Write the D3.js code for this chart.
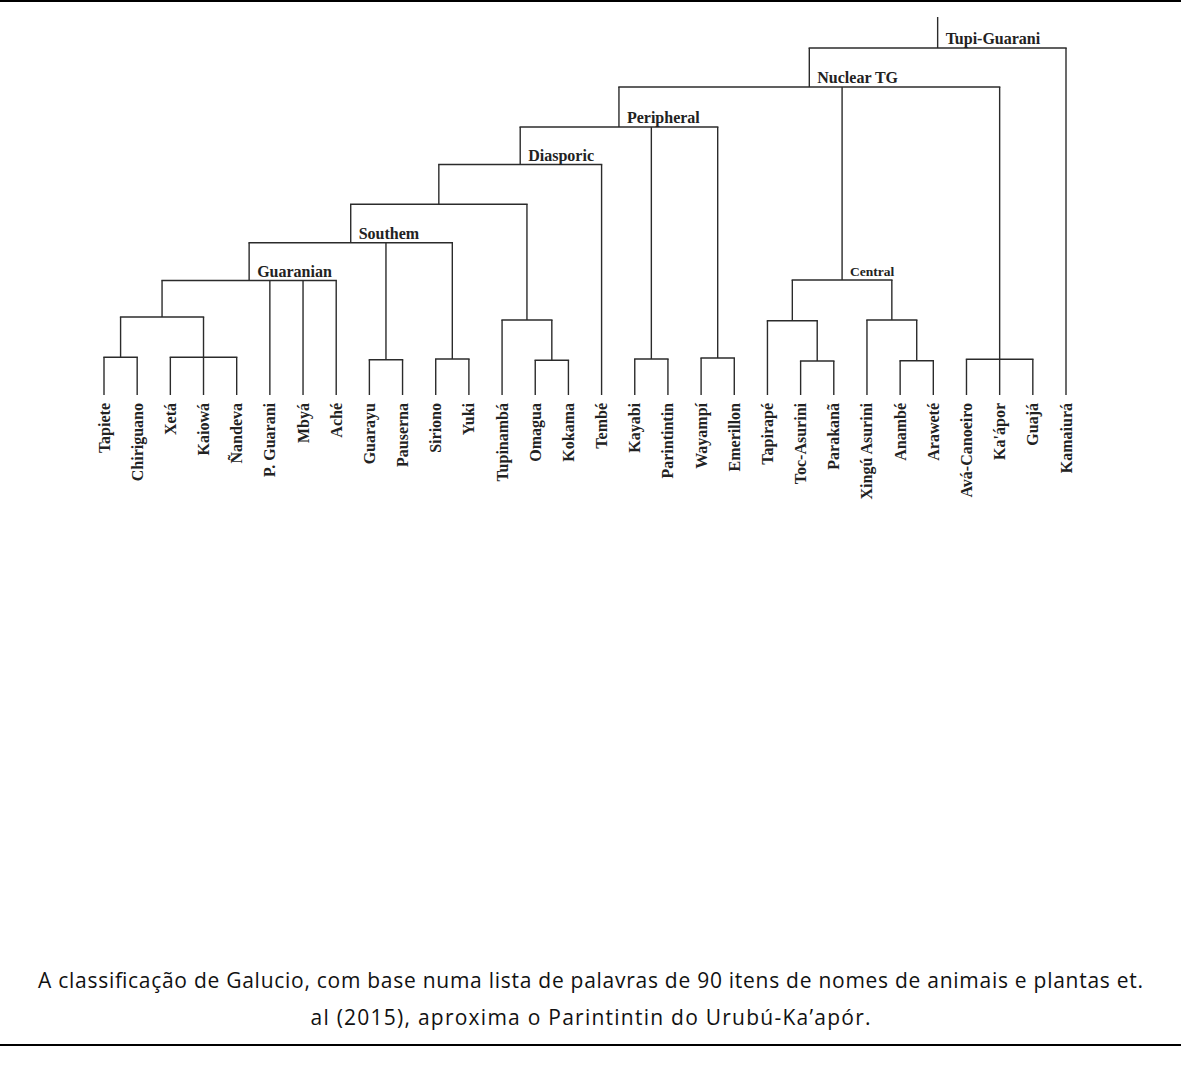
<!DOCTYPE html>
<html>
<head>
<meta charset="utf-8">
<script src="https://cdn.jsdelivr.net/npm/d3@7"></script>
<style>
  body { margin: 0; background: #fff; }
  svg { display: block; }
</style>
</head>
<body>
<div id="chart"></div>
<script>
var width = 1181, height = 1065;

// leaves, left to right
var leaves = ["Tapiete", "Chiriguano", "Xetá", "Kaiowá", "Ñandeva", "P. Guarani", "Mbyá", "Aché",
  "Guarayu", "Pauserna", "Siriono", "Yuki", "Tupinambá", "Omagua", "Kokama", "Tembé",
  "Kayabi", "Parintintin", "Wayampí", "Emerillon", "Tapirapé", "Toc-Asurini", "Parakanã",
  "Xingú Asurini", "Anambé", "Araweté", "Avá-Canoeiro", "Ka'ápor", "Guajá", "Kamaiurá"];

// internal nodes: id, clade label, node height, children
var clades = [
  ["tc", "", 37.7, ["Tapiete", "Chiriguano"]],
  ["xkn", "", 37.7, ["Xetá", "Kaiowá", "Ñandeva"]],
  ["kai", "", 78, ["tc", "xkn"]],
  ["guaranian", "Guaranian", 114.5, ["kai", "P. Guarani", "Mbyá", "Aché"]],
  ["gp", "", 35.3, ["Guarayu", "Pauserna"]],
  ["sy", "", 36, ["Siriono", "Yuki"]],
  ["southem", "Southem", 152.3, ["guaranian", "gp", "sy"]],
  ["ok", "", 34.7, ["Omagua", "Kokama"]],
  ["tup", "", 75, ["Tupinambá", "ok"]],
  ["un", "", 190.7, ["southem", "tup"]],
  ["diasporic", "Diasporic", 230.5, ["un", "Tembé"]],
  ["kp", "", 36, ["Kayabi", "Parintintin"]],
  ["we", "", 37, ["Wayampí", "Emerillon"]],
  ["peripheral", "Peripheral", 268, ["diasporic", "kp", "we"]],
  ["tpk", "", 34, ["Toc-Asurini", "Parakanã"]],
  ["tap", "", 74.3, ["Tapirapé", "tpk"]],
  ["aa", "", 34.3, ["Anambé", "Araweté"]],
  ["xin", "", 75, ["Xingú Asurini", "aa"]],
  ["central", "Central", 115, ["tap", "xin"]],
  ["akg", "", 35.7, ["Avá-Canoeiro", "Ka'ápor", "Guajá"]],
  ["nuclear", "Nuclear TG", 308, ["peripheral", "central", "akg"]],
  ["tg", "Tupi-Guarani", 347, ["nuclear", "Kamaiurá"]]
];
var rootStub = 378;

var caption = [
  "A classificação de Galucio, com base numa lista de palavras de 90 itens de nomes de animais e plantas et.",
  "al (2015), aproxima o Parintintin do Urubú-Ka’apór."
];
var captionWidths = [1105, 560];

var svg = d3.select("#chart").append("svg")
  .attr("width", width)
  .attr("height", height);

svg.append("rect").attr("width", width).attr("height", height).attr("fill", "#fff");

// page rules
svg.append("line").attr("x1", 0).attr("x2", width).attr("y1", 1).attr("y2", 1)
  .attr("stroke", "#000").attr("stroke-width", 2);
svg.append("line").attr("x1", 0).attr("x2", width).attr("y1", 1045).attr("y2", 1045)
  .attr("stroke", "#000").attr("stroke-width", 2);

var x = d3.scalePoint().domain(leaves).range([104, 1066]);
var y = d3.scaleLinear().domain([0, rootStub]).range([395, 17]);

// build hierarchy
var byId = {};
clades.forEach(c => { byId[c[0]] = {id: c[0], label: c[1], h: c[2], kids: c[3]}; });
function build(id) {
  if (byId[id]) {
    var n = byId[id];
    return {id: id, label: n.label, h: n.h, children: n.kids.map(build)};
  }
  return {id: id, label: id, h: 0, leaf: true};
}
var root = d3.hierarchy(build("tg"));

// leaf x from point scale, parent x = middle of outermost children
root.eachAfter(d => {
  if (!d.children) d.x = x(d.data.id);
  else d.x = (d3.min(d.children, c => c.x) + d3.max(d.children, c => c.x)) / 2;
  d.y = y(d.data.h);
});

var tree = svg.append("g")
  .attr("fill", "none")
  .attr("stroke", "#2b2b2b")
  .attr("stroke-width", 1.4);

// horizontal bars
tree.selectAll(".bar")
  .data(root.descendants().filter(d => d.children))
  .enter().append("line")
  .attr("x1", d => d3.min(d.children, c => c.x) - 0.7)
  .attr("x2", d => d3.max(d.children, c => c.x) + 0.7)
  .attr("y1", d => d.y)
  .attr("y2", d => d.y);

// verticals
tree.selectAll(".stem")
  .data(root.descendants().filter(d => d.parent))
  .enter().append("line")
  .attr("x1", d => d.x)
  .attr("x2", d => d.x)
  .attr("y1", d => d.y)
  .attr("y2", d => d.parent.y);

tree.append("line")
  .attr("x1", root.x).attr("x2", root.x)
  .attr("y1", root.y).attr("y2", y(rootStub));

// clade labels
svg.selectAll(".clade")
  .data(root.descendants().filter(d => d.children && d.data.label))
  .enter().append("text")
  .attr("x", d => d.x + 8)
  .attr("y", d => d.y - 4)
  .attr("font-family", "'Liberation Serif', 'Times New Roman', serif")
  .attr("font-weight", "bold")
  .attr("font-size", d => d.data.id === "central" ? 13.5 : 16)
  .attr("fill", "#222")
  .text(d => d.data.label);

// leaf labels
svg.selectAll(".leaf")
  .data(root.leaves())
  .enter().append("text")
  .attr("transform", d => "translate(" + (d.x + 5.5) + ",403) rotate(-90)")
  .attr("text-anchor", "end")
  .attr("font-family", "'Liberation Serif', 'Times New Roman', serif")
  .attr("font-weight", "bold")
  .attr("font-size", 16)
  .attr("fill", "#222")
  .text(d => d.data.id);

// caption
svg.selectAll(".caption")
  .data(caption)
  .enter().append("text")
  .attr("x", (d, i) => 590.5 - captionWidths[i] / 2)
  .attr("y", (d, i) => 988 + i * 37)
  .attr("textLength", (d, i) => captionWidths[i])
  .attr("lengthAdjust", "spacing")
  .attr("font-family", "'Open Sans', 'Noto Sans', sans-serif")
  .attr("font-size", 21)
  .attr("fill", "#111")
  .text(d => d);
</script>
</body>
</html>
